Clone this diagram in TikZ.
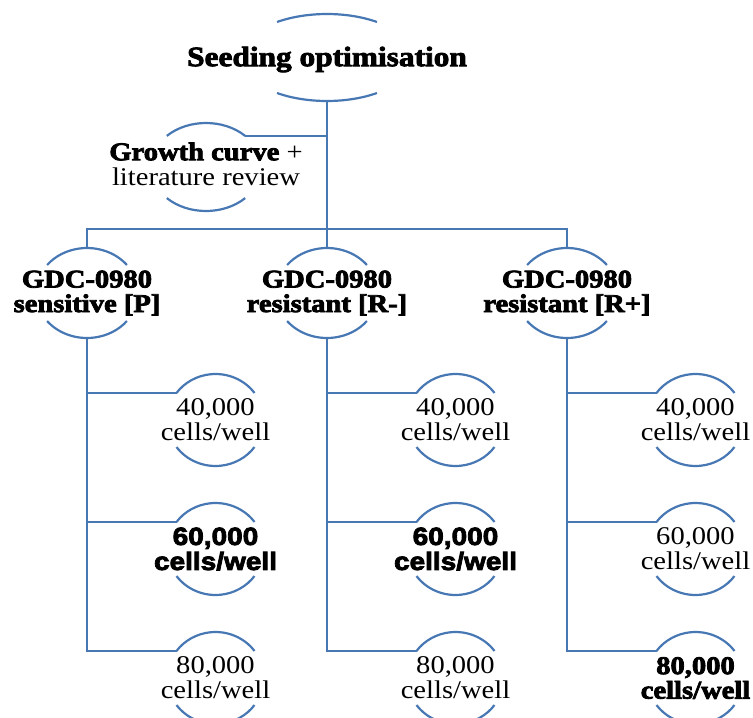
\documentclass[tikz,border=0pt]{standalone}
\usepackage{fontspec}
\setmainfont{Liberation Serif}[FakeStretch=1.12]
\newfontfamily\heavyserif{Liberation Serif}[UprightFont={* Bold}, FakeStretch=1.12]
\newfontfamily\heavysans{Liberation Sans}[UprightFont={* Bold}, FakeStretch=1.12]
\newcommand\thick[1]{\special{pdf:literal 2 Tr 0.8 w 0 G}#1\special{pdf:literal 0 Tr}}
\usetikzlibrary{calc}
\definecolor{lineblue}{RGB}{72,120,180}
\tikzset{
  conn/.style={draw=lineblue, line width=2.2pt},
  txt/.style={inner sep=0pt, align=center, font=\fontsize{25.5}{25}\selectfont},
  boldtxt/.style={txt, font=\heavyserif\fontsize{25.5}{24.5}\selectfont},
  heavytxt/.style={txt, font=\heavysans\fontsize{25}{25}\selectfont},
  roottxt/.style={txt, font=\heavyserif\fontsize{28}{28}\selectfont},
}
% ring: #1 name of centre coordinate, #2 x radius, #3 y radius, #4 angle
\newcommand\ringarcs[4]{%
  \draw[conn] ($(#1)+(#4:#2 and #3)$) arc[start angle=#4, end angle=180-#4, x radius=#2, y radius=#3];
  \draw[conn] ($(#1)+(180+#4:#2 and #3)$) arc[start angle=180+#4, end angle=360-#4, x radius=#2, y radius=#3];
  \coordinate (#1-tl) at ($(#1)+(180-#4:#2 and #3)$);
  \coordinate (#1-tr) at ($(#1)+(#4:#2 and #3)$);
  \coordinate (#1-t) at ($(#1)+(0,#3)$);
  \coordinate (#1-b) at ($(#1)+(0,-#3)$);
}
\begin{document}
\begin{tikzpicture}[x=1pt,y=1pt]
\useasboundingbox (0,0) rectangle (753,-718);
\clip (0,0) rectangle (753,-718);

% ring centres
\coordinate (root) at (327,-57.5);
\coordinate (grow) at (206,-167);
\coordinate (P) at (87,-293);
\coordinate (Rm) at (327,-293);
\coordinate (Rp) at (567,-293);
\foreach \n/\x in {p/215.5, m/455.5, r/695.5}{
  \coordinate (\n1) at (\x,-420);
  \coordinate (\n2) at (\x,-549);
  \coordinate (\n3) at (\x,-678);
}

% rings
\ringarcs{root}{86.5}{43.5}{54.7}
\ringarcs{grow}{55.4}{44}{45}
\ringarcs{P}{51}{45}{38.5}
\ringarcs{Rm}{51}{45}{38.5}
\ringarcs{Rp}{51}{45}{38.5}
\ringarcs{p1}{48.2}{46}{36}
\ringarcs{p2}{48.2}{46}{36}
\ringarcs{p3}{48.2}{46}{36}
\ringarcs{m1}{48.2}{46}{36}
\ringarcs{m2}{48.2}{46}{36}
\ringarcs{m3}{48.2}{46}{36}
\ringarcs{r1}{48.2}{46}{36}
\ringarcs{r2}{48.2}{46}{36}
\ringarcs{r3}{48.2}{46}{36}

% texts
\node[roottxt] (rootT) at ($(root)+(0,-2)$) {\thick{Seeding optimisation}};
\node[txt] (growT) at ($(grow)+(0,3)$) {{\heavyserif\thick{Growth curve}} +\\literature review};
\node[boldtxt] (PT) at (P) {\thick{GDC-0980}\\\thick{sensitive [P]}};
\node[boldtxt] (RmT) at (Rm) {\thick{GDC-0980}\\\thick{resistant [R-]}};
\node[boldtxt] (RpT) at (Rp) {\thick{GDC-0980}\\\thick{resistant [R+]}};

\node[txt] (p1T) at (p1) {40,000\\cells/well};
\node[heavytxt] (p2T) at (p2) {\thick{60,000}\\\thick{cells/well}};
\node[txt] (p3T) at (p3) {80,000\\cells/well};
\node[txt] (m1T) at (m1) {40,000\\cells/well};
\node[heavytxt] (m2T) at (m2) {\thick{60,000}\\\thick{cells/well}};
\node[txt] (m3T) at (m3) {80,000\\cells/well};
\node[txt] (r1T) at (r1) {40,000\\cells/well};
\node[txt] (r2T) at (r2) {60,000\\cells/well};
\node[boldtxt] (r3T) at (r3) {\thick{80,000}\\\thick{cells/well}};

% connectors
\coordinate (bar) at (327,-229);
\draw[conn] (root-b) -- (Rm-t);
\draw[conn] (P-t) |- (bar) -| (Rp-t);
\draw[conn] (grow-tr) -- (grow-tr -| root-b);
\foreach \c/\n in {P/p, Rm/m, Rp/r}{
  \draw[conn] (\c-b) |- (\n1-tl);
  \draw[conn] (\c-b) |- (\n2-tl);
  \draw[conn] (\c-b) |- (\n3-tl);
}
\end{tikzpicture}
\end{document}
